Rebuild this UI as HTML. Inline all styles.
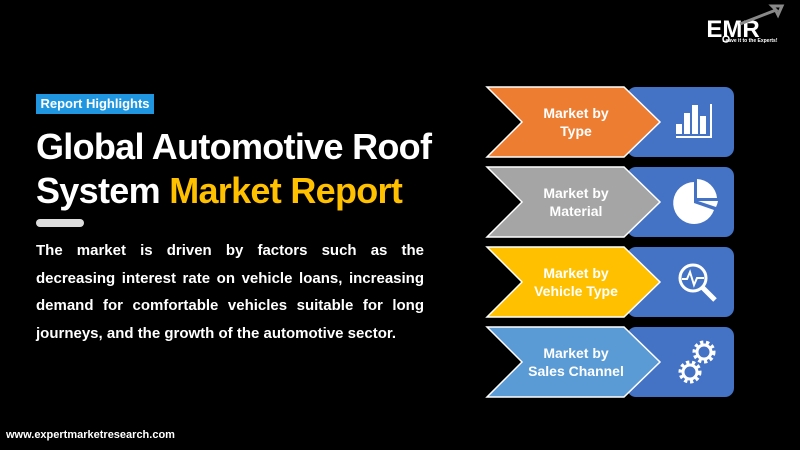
<!DOCTYPE html>
<html><head><style>
body{margin:0;width:800px;height:450px;background:#000;overflow:hidden;font-family:"Liberation Sans",sans-serif;position:relative}
.tag{position:absolute;left:36px;top:94px;width:118px;height:20px;background:#2196e0;color:#fff;font-size:13px;font-weight:bold;line-height:20px;text-align:center}
h1{position:absolute;left:36px;top:125px;margin:0;font-size:36px;line-height:44px;color:#fff;font-weight:bold;letter-spacing:-0.7px}
h1 span{color:#ffc000}
.bar{position:absolute;left:36px;top:219px;width:48px;height:8px;border-radius:4px;background:#ddd}
p{position:absolute;left:36px;top:237px;width:388px;margin:0;color:#fff;font-size:15px;font-weight:bold;line-height:27.5px;text-align:justify}
.url{position:absolute;left:6px;top:429px;color:#fff;font-size:11px;font-weight:bold}
</style></head><body>
<div class="tag">Report Highlights</div>
<h1>Global Automotive Roof<br>System <span>Market Report</span></h1>
<div class="bar"></div>
<p>The market is driven by factors such as the decreasing interest rate on vehicle loans, increasing demand for comfortable vehicles suitable for long journeys, and the growth of the automotive sector.</p>
<div class="url">www.expertmarketresearch.com</div>
<svg width="800" height="450" style="position:absolute;left:0;top:0" font-family="Liberation Sans,sans-serif" font-weight="bold">
<g fill="#fff"><text x="733" y="37" font-size="24" text-anchor="middle">EMR</text>
<text x="750" y="42" font-size="5" text-anchor="middle">Leave it to the Experts!</text>
<circle cx="726" cy="39" r="3" fill="none" stroke="#fff" stroke-width="1.5"/>
<path d="M740 24 L776 10 L772 6 L782 6 L778 15 L776 11" fill="none" stroke="#888" stroke-width="3"/></g>
<g stroke="#fff" stroke-width="1.5">
<rect x="627" y="87" width="107" height="70" rx="9" fill="#4472c4" stroke="none"/>
<path d="M487 87 L624 87 L660 122 L624 157 L487 157 L522 122 Z" fill="#ed7d31"/>
<rect x="627" y="167" width="107" height="70" rx="9" fill="#4472c4" stroke="none"/>
<path d="M487 167 L624 167 L660 202 L624 237 L487 237 L522 202 Z" fill="#a5a5a5"/>
<rect x="627" y="247" width="107" height="70" rx="9" fill="#4472c4" stroke="none"/>
<path d="M487 247 L624 247 L660 282 L624 317 L487 317 L522 282 Z" fill="#ffc000"/>
<rect x="627" y="327" width="107" height="70" rx="9" fill="#4472c4" stroke="none"/>
<path d="M487 327 L624 327 L660 362 L624 397 L487 397 L522 362 Z" fill="#5b9bd5"/>
</g>
<g fill="#fff" font-size="14" text-anchor="middle">
<text x="576" y="118">Market by</text><text x="576" y="136">Type</text>
<text x="576" y="198">Market by</text><text x="576" y="216">Material</text>
<text x="576" y="278">Market by</text><text x="576" y="296">Vehicle Type</text>
<text x="576" y="358">Market by</text><text x="576" y="376">Sales Channel</text>
</g>
<g fill="#fff">
<rect x="676" y="124" width="6" height="10"/><rect x="684" y="113" width="6" height="21"/><rect x="692" y="105" width="6" height="29"/><rect x="700" y="116" width="6" height="18"/>
<rect x="676" y="136" width="36" height="2"/><rect x="710" y="104" width="2" height="34"/>
<path d="M694 182 A21 21 0 1 0 714 210 L694 203 Z"/><path d="M697 179 A21 21 0 0 1 717 198 L697 198 Z"/><path d="M698 201 L718 201 A21 21 0 0 1 716 207 Z"/>
<circle cx="693" cy="278" r="13" fill="none" stroke="#fff" stroke-width="3"/>
<path d="M702 287 L715 300" stroke="#fff" stroke-width="5"/>
<path d="M682 279 L687 279 L690 272 L694 285 L697 278 L704 278" fill="none" stroke="#fff" stroke-width="2"/>
<circle cx="704" cy="352" r="9" fill="none" stroke="#fff" stroke-width="5" stroke-dasharray="3 2.5"/>
<circle cx="704" cy="352" r="7" fill="none" stroke="#fff" stroke-width="3"/>
<circle cx="690" cy="372" r="9" fill="none" stroke="#fff" stroke-width="5" stroke-dasharray="3 2.5"/>
<circle cx="690" cy="372" r="7" fill="none" stroke="#fff" stroke-width="3"/>
</g>
</svg>
</body></html>
